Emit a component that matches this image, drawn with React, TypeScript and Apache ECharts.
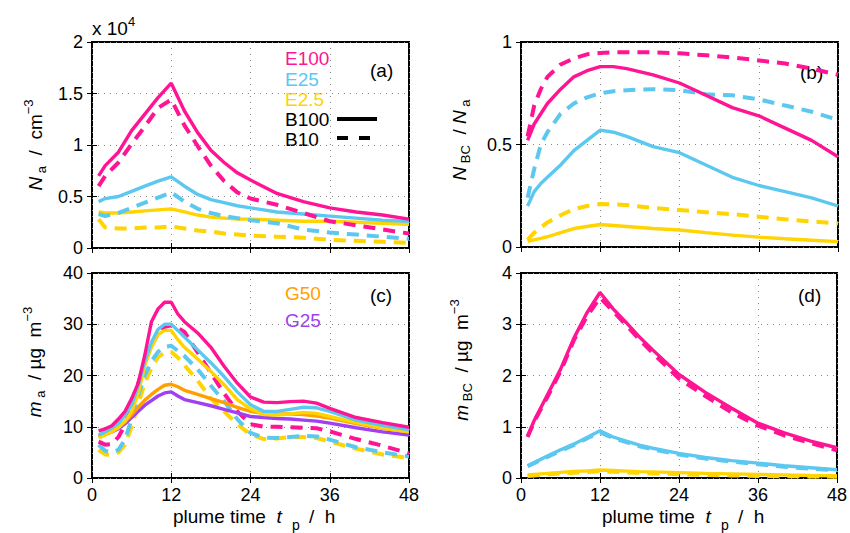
import React, { useEffect, useRef } from "react";
import * as echarts from "echarts";

const FONT = '"Liberation Sans", Arial, Helvetica, sans-serif';
const MAGENTA = "#FF1493";
const CYAN = "#5CC8F0";
const GOLD = "#FFD400";
const ORANGE = "#FFA000";
const PURPLE = "#A040F0";

// ---------- panel (a): N_a  (units of 10^4 cm^-3)
const tA = [1, 2, 4, 6, 8, 10, 12, 14, 16, 18, 20, 22, 24, 28, 32, 36, 40, 44, 48];
const naE100B100 = [0.70, 0.80, 0.93, 1.14, 1.30, 1.46, 1.60, 1.33, 1.12, 0.95, 0.83, 0.73, 0.66, 0.53, 0.45, 0.39, 0.35, 0.32, 0.28];
const naE100B10 = [0.60, 0.70, 0.83, 1.01, 1.18, 1.36, 1.44, 1.19, 0.99, 0.80, 0.65, 0.54, 0.48, 0.42, 0.34, 0.26, 0.22, 0.18, 0.14];
const naE25B100 = [0.45, 0.48, 0.50, 0.55, 0.60, 0.65, 0.69, 0.60, 0.52, 0.47, 0.44, 0.41, 0.39, 0.35, 0.33, 0.31, 0.29, 0.27, 0.26];
const naE25B10 = [0.33, 0.31, 0.34, 0.39, 0.44, 0.49, 0.54, 0.45, 0.38, 0.34, 0.31, 0.29, 0.27, 0.24, 0.18, 0.15, 0.13, 0.11, 0.09];
const naE2B100 = [0.35, 0.34, 0.34, 0.35, 0.36, 0.37, 0.38, 0.35, 0.32, 0.30, 0.29, 0.28, 0.28, 0.27, 0.26, 0.26, 0.25, 0.24, 0.23];
const naE2B10 = [0.28, 0.20, 0.19, 0.19, 0.20, 0.20, 0.21, 0.19, 0.17, 0.16, 0.14, 0.13, 0.12, 0.11, 0.10, 0.08, 0.07, 0.06, 0.05];

// ---------- panel (b): N_BC / N_a
const tB = [1, 2, 3, 4, 6, 8, 10, 12, 14, 16, 20, 24, 28, 32, 36, 40, 44, 48];
const fbE100B100 = [0.52, 0.60, 0.65, 0.70, 0.77, 0.83, 0.86, 0.88, 0.88, 0.87, 0.84, 0.80, 0.74, 0.68, 0.64, 0.58, 0.52, 0.44];
const fbE100B10 = [0.54, 0.69, 0.77, 0.83, 0.89, 0.92, 0.94, 0.946, 0.95, 0.95, 0.95, 0.945, 0.935, 0.925, 0.91, 0.895, 0.87, 0.84];
const fbE25B100 = [0.20, 0.27, 0.31, 0.34, 0.40, 0.47, 0.52, 0.57, 0.56, 0.54, 0.49, 0.46, 0.40, 0.34, 0.30, 0.27, 0.24, 0.20];
const fbE25B10 = [0.24, 0.38, 0.50, 0.56, 0.65, 0.70, 0.73, 0.75, 0.76, 0.765, 0.77, 0.765, 0.745, 0.74, 0.72, 0.69, 0.66, 0.62];
const fbE2B100 = [0.027, 0.035, 0.042, 0.05, 0.07, 0.09, 0.10, 0.11, 0.105, 0.10, 0.09, 0.083, 0.07, 0.058, 0.048, 0.04, 0.033, 0.026];
const fbE2B10 = [0.035, 0.07, 0.095, 0.12, 0.155, 0.185, 0.20, 0.21, 0.208, 0.205, 0.19, 0.18, 0.17, 0.16, 0.148, 0.135, 0.125, 0.115];

// ---------- panel (c): m_a  (µg m^-3)
const tC = [1, 2, 3, 4, 5, 6, 7, 8, 9, 10, 11, 12, 13, 14, 16, 18, 20, 22, 24, 26, 28, 30, 32, 34, 36, 40, 44, 48];
const maE100B100 = [9.2, 9.6, 10.2, 11.5, 13.0, 15.5, 18.5, 24.0, 30.5, 33.0, 34.3, 34.3, 32.0, 30.5, 28.3, 25.5, 21.8, 18.5, 15.8, 14.8, 14.7, 14.9, 15.0, 14.6, 13.6, 11.8, 10.8, 9.9];
const maE100B10 = [7.1, 6.5, 6.6, 8.0, 10.3, 14.3, 18.5, 22.5, 26.0, 28.0, 29.5, 29.8, 29.3, 28.5, 24.5, 20.5, 16.5, 13.0, 10.5, 10.0, 10.0, 9.9, 9.8, 9.7, 9.1, 7.6, 6.3, 4.8];
const maE25B100 = [8.4, 9.0, 9.8, 10.7, 12.2, 14.3, 18.0, 22.8, 26.5, 29.0, 30.0, 30.0, 28.8, 27.5, 25.0, 22.5, 19.8, 16.8, 14.3, 13.0, 13.0, 13.4, 13.8, 13.7, 13.0, 11.3, 10.3, 9.4];
const maE25B10 = [6.5, 5.3, 5.0, 5.5, 7.5, 11.5, 16.0, 20.0, 22.8, 24.6, 25.6, 25.8, 24.8, 23.8, 21.2, 18.0, 15.0, 11.5, 8.8, 7.9, 7.8, 8.0, 8.2, 8.1, 7.5, 6.0, 5.0, 4.2];
const maE2B100 = [7.8, 8.4, 9.0, 9.8, 11.0, 13.0, 16.5, 22.0, 25.5, 28.0, 28.8, 28.8, 27.0, 25.5, 23.2, 20.8, 18.2, 15.3, 13.5, 12.4, 12.3, 12.5, 12.8, 12.6, 12.0, 10.8, 9.8, 9.0];
const maE2B10 = [5.5, 4.6, 4.5, 5.0, 6.5, 10.0, 14.5, 18.5, 21.5, 23.6, 24.5, 24.6, 23.5, 22.0, 19.0, 15.5, 13.0, 10.5, 8.5, 7.6, 7.7, 8.0, 8.0, 7.8, 7.1, 5.7, 4.6, 3.9];
const maG50 = [8.1, 8.6, 9.2, 9.9, 11.0, 12.3, 13.8, 15.2, 16.3, 17.3, 18.1, 18.3, 17.8, 17.1, 16.3, 15.5, 14.7, 13.8, 13.0, 12.6, 12.5, 12.5, 12.4, 12.1, 11.7, 10.6, 9.7, 9.0];
const maG25 = [8.1, 8.5, 9.0, 9.6, 10.6, 11.8, 13.0, 14.2, 15.1, 16.0, 16.6, 16.8, 16.0, 15.3, 14.7, 14.1, 13.4, 12.7, 12.0, 11.8, 11.6, 11.5, 11.3, 11.1, 10.7, 9.8, 9.0, 8.4];

// ---------- panel (d): m_BC  (µg m^-3)
const tD = [1, 2, 4, 6, 8, 10, 12, 14, 16, 18, 20, 24, 28, 32, 36, 40, 44, 48];
const mbE100B100 = [0.82, 1.12, 1.62, 2.12, 2.72, 3.22, 3.62, 3.30, 3.03, 2.75, 2.50, 2.02, 1.67, 1.36, 1.07, 0.88, 0.72, 0.59];
const mbE100B10 = [0.80, 1.10, 1.58, 2.08, 2.68, 3.15, 3.52, 3.25, 2.98, 2.70, 2.44, 1.94, 1.60, 1.28, 1.02, 0.83, 0.68, 0.54];
const mbE25B100 = [0.24, 0.30, 0.43, 0.55, 0.66, 0.79, 0.92, 0.80, 0.72, 0.64, 0.58, 0.48, 0.40, 0.34, 0.29, 0.24, 0.20, 0.16];
const mbE25B10 = [0.23, 0.29, 0.41, 0.53, 0.64, 0.77, 0.89, 0.78, 0.70, 0.62, 0.56, 0.46, 0.38, 0.32, 0.27, 0.22, 0.18, 0.15];
const mbE2B100 = [0.06, 0.07, 0.09, 0.11, 0.13, 0.14, 0.155, 0.145, 0.135, 0.125, 0.12, 0.105, 0.09, 0.08, 0.07, 0.06, 0.05, 0.045];
const mbE2B10 = [0.04, 0.05, 0.07, 0.09, 0.10, 0.115, 0.13, 0.12, 0.11, 0.10, 0.09, 0.075, 0.06, 0.05, 0.04, 0.035, 0.03, 0.025];

const X_TICKS = [0, 12, 24, 36, 48];

const GRIDS = [
  { left: 92, top: 42, width: 317, height: 206 },
  { left: 521, top: 42, width: 317, height: 205 },
  { left: 92, top: 273, width: 317, height: 205 },
  { left: 521, top: 273, width: 317, height: 205 },
];
const Y_RANGES = [
  { max: 2, interval: 0.5 },
  { max: 1, interval: 0.5 },
  { max: 40, interval: 10 },
  { max: 4, interval: 1 },
];

const DASH = [12, 8];

function line(gi: number, t: number[], v: number[], color: string, dashed: boolean, z: number) {
  return {
    type: "line",
    xAxisIndex: 2 * gi,
    yAxisIndex: 2 * gi,
    data: t.map((x, i) => [x, v[i]]),
    symbol: "none",
    showSymbol: false,
    silent: true,
    z,
    lineStyle: { color, width: dashed ? 4 : 3.4, type: dashed ? DASH : "solid", cap: "butt" },
    itemStyle: { color },
  };
}

const richBase = {
  i: { fontFamily: FONT, fontSize: 19, fontStyle: "italic", lineHeight: 26, fill: "#000" },
  n: { fontFamily: FONT, fontSize: 19, lineHeight: 26, fill: "#000" },
  sb: { fontFamily: FONT, fontSize: 13, lineHeight: 14, verticalAlign: "bottom", fill: "#000" },
  sp: { fontFamily: FONT, fontSize: 13, lineHeight: 8, verticalAlign: "top", fill: "#000" },
};

function rotLabel(x: number, y: number, text: string) {
  return {
    type: "text",
    x,
    y,
    rotation: Math.PI / 2,
    silent: true,
    style: { text, rich: richBase, align: "center", verticalAlign: "middle", font: `19px ${FONT}` },
  };
}

function plainText(x: number, y: number, text: string, color: string, size = 19) {
  return {
    type: "text",
    x,
    y,
    silent: true,
    style: { text, fill: color, font: `${size}px ${FONT}`, align: "left", verticalAlign: "middle" },
  };
}

function xLabel(left: number) {
  return [
    {
      type: "text",
      x: left,
      y: 516,
      silent: true,
      style: {
        text: "{n|plume time  }{i|t}",
        rich: richBase,
        align: "left",
        verticalAlign: "middle",
        font: `19px ${FONT}`,
      },
    },
    plainText(left + 119, 525, "p", "#000", 14),
    plainText(left + 136, 516, "/  h", "#000", 19),
  ];
}

export default function App() {
  const ref = useRef<HTMLDivElement>(null);
  useEffect(() => {
    if (!ref.current) return;
    const chart = echarts.init(ref.current, null, { renderer: "svg" });

    const tick = { show: true, inside: true, length: 5, lineStyle: { color: "#000", width: 1 } };
    const grid = { show: true, lineStyle: { color: "#888", width: 1, type: [1, 5] } };
    const xAxes: any[] = [];
    const yAxes: any[] = [];
    GRIDS.forEach((_, gi) => {
      const showXLabels = gi >= 2;
      xAxes.push({
        type: "value",
        gridIndex: gi,
        min: 0,
        max: 48,
        interval: 12,
        position: "bottom",
        axisLine: { show: false },
        axisTick: tick,
        axisLabel: {
          show: showXLabels,
          margin: 8,
          color: "#000",
          fontSize: 18,
          fontFamily: FONT,
          formatter: (v: number) => (X_TICKS.includes(v) ? String(v) : ""),
        },
        splitLine: grid,
      });
      xAxes.push({
        type: "value",
        gridIndex: gi,
        min: 0,
        max: 48,
        interval: 12,
        position: "top",
        axisLine: { show: false },
        axisTick: tick,
        axisLabel: { show: false },
        splitLine: { show: false },
      });
      const r = Y_RANGES[gi];
      yAxes.push({
        type: "value",
        gridIndex: gi,
        min: 0,
        max: r.max,
        interval: r.interval,
        position: "left",
        axisLine: { show: false },
        axisTick: tick,
        axisLabel: { show: true, margin: 9, color: "#000", fontSize: 18, fontFamily: FONT },
        splitLine: grid,
      });
      yAxes.push({
        type: "value",
        gridIndex: gi,
        min: 0,
        max: r.max,
        interval: r.interval,
        position: "right",
        axisLine: { show: false },
        axisTick: tick,
        axisLabel: { show: false },
        splitLine: { show: false },
      });
    });

    const series = [
      line(0, tA, naE2B10, GOLD, true, 2),
      line(0, tA, naE2B100, GOLD, false, 2),
      line(0, tA, naE25B10, CYAN, true, 3),
      line(0, tA, naE25B100, CYAN, false, 3),
      line(0, tA, naE100B10, MAGENTA, true, 4),
      line(0, tA, naE100B100, MAGENTA, false, 4),

      line(1, tB, fbE2B10, GOLD, true, 2),
      line(1, tB, fbE2B100, GOLD, false, 2),
      line(1, tB, fbE25B10, CYAN, true, 3),
      line(1, tB, fbE25B100, CYAN, false, 3),
      line(1, tB, fbE100B10, MAGENTA, true, 4),
      line(1, tB, fbE100B100, MAGENTA, false, 4),

      line(2, tC, maE2B10, GOLD, true, 2),
      line(2, tC, maE25B10, CYAN, true, 3),
      line(2, tC, maE100B10, MAGENTA, true, 4),
      line(2, tC, maG25, PURPLE, false, 5),
      line(2, tC, maG50, ORANGE, false, 5),
      line(2, tC, maE2B100, GOLD, false, 5),
      line(2, tC, maE25B100, CYAN, false, 5),
      line(2, tC, maE100B100, MAGENTA, false, 5),

      line(3, tD, mbE2B10, GOLD, true, 2),
      line(3, tD, mbE2B100, GOLD, false, 2),
      line(3, tD, mbE25B10, CYAN, true, 3),
      line(3, tD, mbE25B100, CYAN, false, 3),
      line(3, tD, mbE100B10, MAGENTA, true, 4),
      line(3, tD, mbE100B100, MAGENTA, false, 4),
    ];

    const graphic: any[] = [
      {
        type: "text",
        x: 92,
        y: 28,
        silent: true,
        style: {
          text: "{n|x 10}{sp|4}",
          rich: richBase,
          align: "left",
          verticalAlign: "middle",
          font: `19px ${FONT}`,
        },
      },
      rotLabel(35, 145, "{i|N}{sb| a}{n|  /  cm}{sp|−3}"),
      rotLabel(459, 140, "{i|N}{sb| BC}{n|  / }{i|N}{sb| a}"),
      rotLabel(34, 362, "{i|m}{sb| a}{n|  / µg  m}{sp|−3}"),
      rotLabel(461, 360, "{i|m}{sb| BC}{n|  / µg  m}{sp|−3}"),
      ...xLabel(173),
      ...xLabel(602),
      plainText(285, 58, "E100", MAGENTA),
      plainText(285, 79, "E25", CYAN),
      plainText(285, 99, "E2.5", GOLD),
      plainText(285, 119, "B100", "#000"),
      plainText(285, 139, "B10", "#000"),
      {
        type: "line",
        silent: true,
        shape: { x1: 337, y1: 119, x2: 377, y2: 119 },
        style: { stroke: "#000", lineWidth: 4 },
      },
      {
        type: "line",
        silent: true,
        shape: { x1: 337, y1: 138, x2: 377, y2: 138 },
        style: { stroke: "#000", lineWidth: 4, lineDash: [11, 11] },
      },
      plainText(370, 70, "(a)", "#000"),
      plainText(800, 72, "(b)", "#000"),
      plainText(370, 295, "(c)", "#000"),
      plainText(798, 295, "(d)", "#000"),
      plainText(285, 293, "G50", ORANGE),
      plainText(285, 320, "G25", PURPLE),
    ];

    chart.setOption({
      animation: false,
      backgroundColor: "#fff",
      textStyle: { fontFamily: FONT },
      grid: GRIDS.map((g) => ({
        ...g,
        show: true,
        borderColor: "#000",
        borderWidth: 2,
        backgroundColor: "transparent",
        containLabel: false,
      })),
      xAxis: xAxes,
      yAxis: yAxes,
      series,
      graphic,
    });
    return () => chart.dispose();
  }, []);
  return <div ref={ref} style={{ position: "fixed", left: 0, top: 0, width: 850, height: 533 }} />;
}
